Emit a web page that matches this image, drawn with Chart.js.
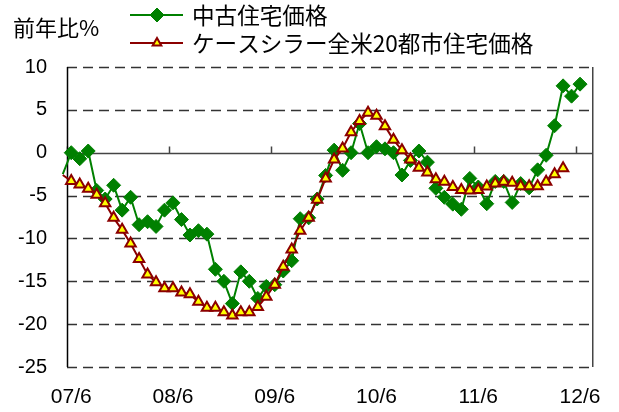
<!DOCTYPE html>
<html>
<head>
<meta charset="utf-8">
<script src="https://cdn.jsdelivr.net/npm/chart.js@4.4.1/dist/chart.umd.min.js"></script>
<style>
  html, body { margin: 0; padding: 0; background: #fff; }
  #wrap { width: 619px; height: 412px; position: relative; }
</style>
</head>
<body>
<div id="wrap"><canvas id="chart" width="619" height="412"></canvas></div>
<script>
// months, 07/5 .. 12/6
const months = [
  '07/5','07/6','07/7','07/8','07/9','07/10','07/11','07/12',
  '08/1','08/2','08/3','08/4','08/5','08/6','08/7','08/8','08/9','08/10','08/11','08/12',
  '09/1','09/2','09/3','09/4','09/5','09/6','09/7','09/8','09/9','09/10','09/11','09/12',
  '10/1','10/2','10/3','10/4','10/5','10/6','10/7','10/8','10/9','10/10','10/11','10/12',
  '11/1','11/2','11/3','11/4','11/5','11/6','11/7','11/8','11/9','11/10','11/11','11/12',
  '12/1','12/2','12/3','12/4','12/5','12/6'
];
const tickLabels = ['07/6', '08/6', '09/6', '10/6', '11/6', '12/6'];

// 中古住宅価格 (前年比%)
const usedHomes = [
  -2.5, 0.0, -0.7, 0.2, -4.4, -5.4, -3.8, -6.7,
  -5.2, -8.4, -8.05, -8.6, -6.7, -5.85, -7.8, -9.6, -9.1, -9.5, -13.6, -15.0,
  -17.6, -13.9, -15.0, -17.0, -15.6, -15.4, -13.8, -12.6, -7.7, -7.6, -5.4, -2.65,
  0.3, -2.05, 0.0, 3.4, 0.0, 0.7, 0.45, 0.0, -2.6, -0.9, 0.2, -1.1,
  -4.15, -5.2, -6.0, -6.6, -3.0, -4.0, -5.95, -3.35, -3.35, -5.8, -3.6, -4.1,
  -2.0, -0.3, 3.15, 7.8, 6.6, 8.0
];

// ケースシラー全米20都市住宅価格 (前年比%), 07/5 .. 12/4
const caseShiller = [
  -2.6, -3.3, -3.7, -4.2, -4.9, -5.9, -7.6, -9.0,
  -10.6, -12.4, -14.2, -15.1, -15.8, -15.8, -16.3, -16.5, -17.4, -18.1, -18.1, -18.6,
  -19.0, -18.6, -18.6, -18.0, -16.8, -15.4, -13.3, -11.3, -9.1, -7.6, -5.5, -3.0,
  -0.8, 0.5, 2.4, 3.7, 4.65, 4.3, 3.1, 1.5, 0.3, -0.8, -1.75, -2.3,
  -3.1, -3.4, -4.0, -4.35, -4.4, -4.35, -3.95, -3.6, -3.4, -3.5, -3.9, -3.9,
  -3.9, -3.4, -2.5, -1.8
];

const seriesNames = ['中古住宅価格', 'ケースシラー全米20都市住宅価格'];
const yTitle = '前年比%';

const FONT = '"Liberation Sans", Arial, "Noto Sans CJK JP", sans-serif';
const JFONT = '"Noto Sans CJK JP", "Liberation Sans", sans-serif';

const toPoints = vals => vals.map((v, i) => ({ x: i - 1, y: v }));

const frame = {
  id: 'frame',
  beforeDatasetsDraw(chart) {
    const { ctx, chartArea: a, scales: { x, y } } = chart;
    ctx.save();
    // dashed horizontal grid
    ctx.strokeStyle = '#333';
    ctx.lineWidth = 1.5;
    ctx.setLineDash([10, 6]);
    ctx.beginPath();
    y.ticks.forEach(t => {
      if (t.value === 0) return;
      const py = Math.round(y.getPixelForValue(t.value)) + 0.5;
      ctx.moveTo(a.left, py);
      ctx.lineTo(a.right, py);
    });
    ctx.stroke();
    ctx.setLineDash([]);
    // zero line with yearly ticks
    const y0 = Math.round(y.getPixelForValue(0)) + 0.5;
    ctx.strokeStyle = '#444';
    ctx.beginPath();
    ctx.moveTo(a.left, y0);
    ctx.lineTo(a.right, y0);
    tickLabels.forEach(l => {
      const px = Math.round(x.getPixelForValue(months.indexOf(l) - 1.5)) + 0.5;
      ctx.moveTo(px, y0);
      ctx.lineTo(px, y0 - 7);
    });
    ctx.stroke();
    // frame sides
    ctx.beginPath();
    ctx.moveTo(a.right, a.top);
    ctx.lineTo(a.right, a.bottom);
    ctx.stroke();
    ctx.strokeStyle = '#000';
    ctx.beginPath();
    ctx.moveTo(a.left + 0.5, a.top);
    ctx.lineTo(a.left + 0.5, a.bottom);
    ctx.stroke();
    ctx.restore();
  },
  afterDraw(chart) {
    const ctx = chart.ctx;
    ctx.save();
    ctx.fillStyle = '#000';
    ctx.textBaseline = 'middle';
    ctx.font = '22px ' + JFONT;
    ctx.fillText(yTitle, 13, 28);

    const rows = [15, 43];
    chart.data.datasets.forEach((ds, i) => {
      const yy = rows[i];
      ctx.strokeStyle = ds.borderColor;
      ctx.lineWidth = ds.borderWidth;
      ctx.beginPath();
      ctx.moveTo(130, yy);
      ctx.lineTo(183, yy);
      ctx.stroke();
      ctx.fillStyle = ds.pointBackgroundColor;
      ctx.strokeStyle = ds.pointBorderColor;
      ctx.lineWidth = ds.pointBorderWidth;
      Chart.helpers.drawPoint(ctx, {
        pointStyle: ds.pointStyle, radius: ds.legendRadius, rotation: 0, borderWidth: ds.pointBorderWidth
      }, 157, yy);
      ctx.fillStyle = '#000';
      ctx.font = '22.6px ' + JFONT;
      ctx.fillText(ds.label, 192, yy);
    });
    ctx.restore();
  }
};

new Chart(document.getElementById('chart'), {
  type: 'line',
  data: {
    datasets: [
      {
        label: seriesNames[0],
        data: toPoints(usedHomes),
        borderColor: '#008000',
        backgroundColor: '#008000',
        borderWidth: 2,
        pointStyle: 'rectRot',
        pointRadius: ctx => ctx.dataIndex === 0 ? 0 : 7,
        legendRadius: 7,
        pointBackgroundColor: '#008000',
        pointBorderColor: '#008000',
        pointBorderWidth: 1,
        order: 2,
        clip: { left: 12, top: 10, right: 10, bottom: 10 }
      },
      {
        label: seriesNames[1],
        data: toPoints(caseShiller),
        borderColor: '#8b0000',
        backgroundColor: '#8b0000',
        borderWidth: 2,
        pointStyle: 'triangle',
        pointRadius: ctx => ctx.dataIndex === 0 ? 0 : 6,
        legendRadius: 5,
        pointBackgroundColor: '#ffff00',
        pointBorderColor: '#8b0000',
        pointBorderWidth: 2,
        order: 1,
        clip: { left: 12, top: 10, right: 10, bottom: 10 }
      }
    ]
  },
  options: {
    responsive: false,
    animation: false,
    tension: 0,
    layout: { padding: { left: 0, top: 67, right: 22, bottom: 0 } },
    plugins: { legend: { display: false }, tooltip: { enabled: false } },
    scales: {
      x: {
        type: 'linear',
        min: -0.5,
        max: 61.5,
        afterBuildTicks: s => { s.ticks = tickLabels.map(l => ({ value: months.indexOf(l) - 1 })); },
        afterFit: s => { s.height = 45; },
        grid: { display: false, drawTicks: false },
        border: { display: false },
        ticks: {
          autoSkip: false,
          maxRotation: 0,
          padding: 18,
          color: '#000',
          font: { family: FONT, size: 21 },
          callback: v => months[v + 1]
        }
      },
      y: {
        min: -25,
        max: 10,
        afterFit: s => { s.width = 67; },
        ticks: {
          stepSize: 5,
          padding: 20,
          color: '#000',
          font: { family: FONT, size: 20 }
        },
        grid: { display: false, drawTicks: false },
        border: { display: false }
      }
    }
  },
  plugins: [frame]
});
</script>
</body>
</html>
